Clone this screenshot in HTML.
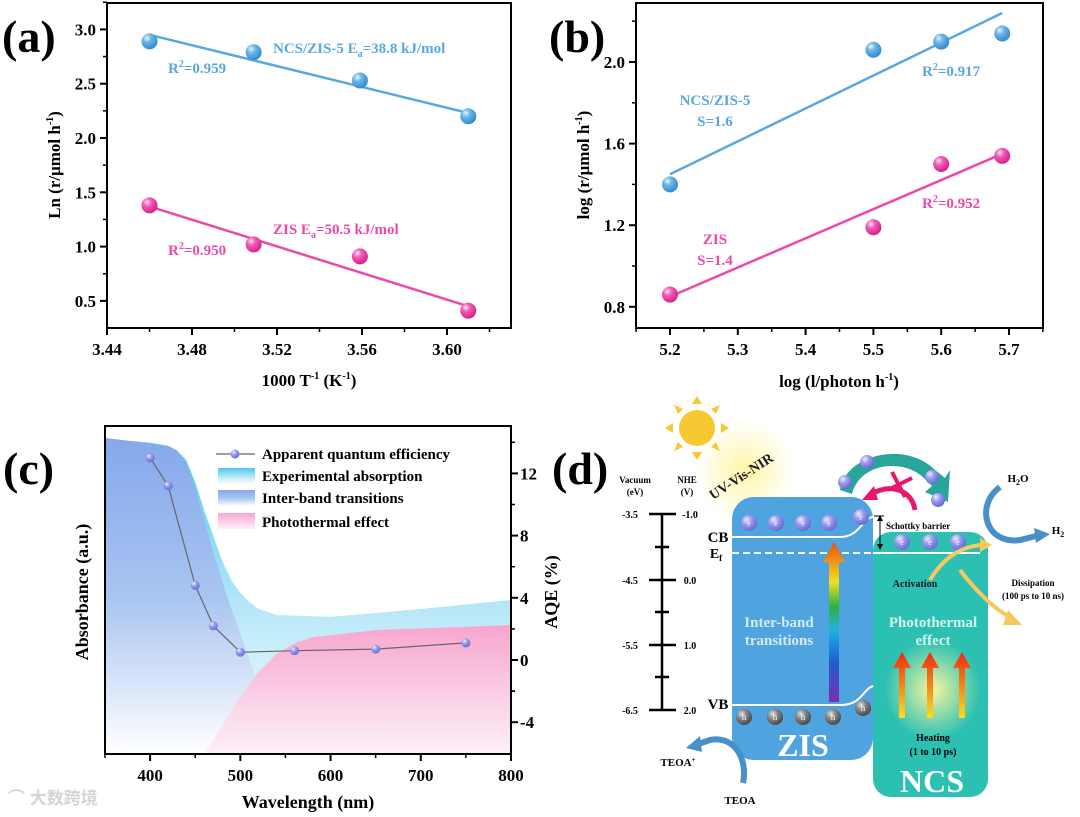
<!DOCTYPE html>
<html><head><meta charset="utf-8">
<style>
html,body{margin:0;padding:0;background:#fff;}
svg{display:block;font-family:"Liberation Serif","Noto Serif CJK SC",serif;font-weight:bold;}
</style></head>
<body>
<svg id="fig" width="1080" height="817" viewBox="0 0 1080 817" xmlns="http://www.w3.org/2000/svg">
<defs>
  <radialGradient id="gBlue" cx="0.35" cy="0.3" r="0.75"><stop offset="0" stop-color="#e8f4ff"/><stop offset="0.35" stop-color="#6cb6ea"/><stop offset="1" stop-color="#2f86c8"/></radialGradient>
  <radialGradient id="gPink" cx="0.35" cy="0.3" r="0.75"><stop offset="0" stop-color="#ffe6f4"/><stop offset="0.35" stop-color="#f25cb4"/><stop offset="1" stop-color="#d41d8a"/></radialGradient>
  <radialGradient id="gPurp" cx="0.35" cy="0.3" r="0.75"><stop offset="0" stop-color="#f0f0ff"/><stop offset="0.4" stop-color="#9a9cf0"/><stop offset="1" stop-color="#6466d0"/></radialGradient>
  <radialGradient id="gGray" cx="0.35" cy="0.3" r="0.75"><stop offset="0" stop-color="#ddd"/><stop offset="0.4" stop-color="#888"/><stop offset="1" stop-color="#444"/></radialGradient>
  <linearGradient id="gCyan" x1="0" y1="0" x2="0" y2="1"><stop offset="0" stop-color="#4cc8f0"/><stop offset="0.55" stop-color="#b8e8f8"/><stop offset="1" stop-color="#ffffff"/></linearGradient>
  <linearGradient id="gInter" x1="0" y1="0" x2="0" y2="1"><stop offset="0" stop-color="#86a8ec"/><stop offset="0.5" stop-color="#a8c4f0"/><stop offset="1" stop-color="#ffffff"/></linearGradient>
  <linearGradient id="gPinkA" x1="0" y1="0" x2="0" y2="1"><stop offset="0" stop-color="#f7a6cf"/><stop offset="1" stop-color="#fdf0f7"/></linearGradient>
  <linearGradient id="gRain" x1="0" y1="1" x2="0" y2="0"><stop offset="0" stop-color="#7a2fb0"/><stop offset="0.25" stop-color="#1e5fd0"/><stop offset="0.45" stop-color="#20b0e0"/><stop offset="0.6" stop-color="#30b040"/><stop offset="0.75" stop-color="#f0e020"/><stop offset="1" stop-color="#f04a10"/></linearGradient>
  <linearGradient id="gHeat" x1="0" y1="1" x2="0" y2="0"><stop offset="0" stop-color="#f8e020"/><stop offset="1" stop-color="#f02a10"/></linearGradient>
  <radialGradient id="gGlow" cx="0.5" cy="0.5" r="0.5"><stop offset="0" stop-color="#f6f6a0"/><stop offset="1" stop-color="#f6f6a0" stop-opacity="0"/></radialGradient>
  <radialGradient id="gSun" cx="0.5" cy="0.5" r="0.5"><stop offset="0" stop-color="#fff59a" stop-opacity="0.9"/><stop offset="1" stop-color="#fff59a" stop-opacity="0"/></radialGradient>
</defs>
<g id="pa"></g>
<g id="pb"></g>
<g id="pc"></g>

<text x="2" y="52" font-size="46">(a)</text>
<text x="549" y="52" font-size="46">(b)</text>
<text x="3" y="484" font-size="46">(c)</text>
<text x="552" y="484" font-size="46">(d)</text>

<g id="pd">
  <circle cx="745" cy="470" r="50" fill="url(#gSun)"/>
  <g fill="#f8c832">
    <circle cx="697" cy="428" r="18"/>
    <polygon points="697,396 692,404 702,404"/><polygon points="697,460 692,452 702,452"/>
    <polygon points="665,428 673,423 673,433"/><polygon points="729,428 721,423 721,433"/>
    <polygon points="674,405 678,414 683,409"/><polygon points="720,451 716,442 711,447"/>
    <polygon points="720,405 711,409 716,414"/><polygon points="674,451 683,447 678,442"/>
  </g>
  <text x="0" y="0" font-size="14" fill="#1a1a1a" transform="translate(713,500) rotate(-33)">UV-Vis-NIR</text>
  <text x="635" y="483" font-size="9" text-anchor="middle">Vacuum</text>
  <text x="635" y="495" font-size="9" text-anchor="middle">(eV)</text>
  <text x="687" y="483" font-size="9" text-anchor="middle">NHE</text>
  <text x="687" y="495" font-size="9" text-anchor="middle">(V)</text>
  <g stroke="#000" stroke-width="2.5">
    <line x1="662" y1="514" x2="662" y2="711"/>
    <line x1="649" y1="514" x2="676" y2="514"/><line x1="649" y1="580" x2="676" y2="580"/>
    <line x1="649" y1="645" x2="676" y2="645"/><line x1="649" y1="710" x2="676" y2="710"/>
    <line x1="655" y1="547" x2="669" y2="547"/><line x1="655" y1="612" x2="669" y2="612"/><line x1="655" y1="677" x2="669" y2="677"/>
  </g>
  <g font-size="10">
    <text x="630" y="518" text-anchor="middle">-3.5</text><text x="630" y="584" text-anchor="middle">-4.5</text>
    <text x="630" y="649" text-anchor="middle">-5.5</text><text x="630" y="714" text-anchor="middle">-6.5</text>
    <text x="690" y="518" text-anchor="middle">-1.0</text><text x="690" y="584" text-anchor="middle">0.0</text>
    <text x="690" y="649" text-anchor="middle">1.0</text><text x="690" y="714" text-anchor="middle">2.0</text>
  </g>
  <rect x="732" y="497" width="141" height="263" rx="22" fill="#4fa3de"/>
  <rect x="873" y="532" width="115" height="265" rx="18" fill="#2cc0b2"/>
  <ellipse cx="933" cy="690" rx="48" ry="50" fill="url(#gGlow)"/>
  <path d="M732,537 L840,537 C860,537 862,518 873,517" fill="none" stroke="#fff" stroke-width="2"/>
  <line x1="732" y1="553" x2="873" y2="553" stroke="#fff" stroke-width="2" stroke-dasharray="7,4"/>
  <line x1="873" y1="553" x2="980" y2="553" stroke="#fff" stroke-width="2"/>
  <path d="M732,705 L840,705 C862,705 862,690 873,686" fill="none" stroke="#fff" stroke-width="2"/>
  <text x="718" y="542" font-size="15" text-anchor="middle">CB</text>
  <text x="716" y="558" font-size="14" text-anchor="middle">E<tspan font-size="9" dy="3">f</tspan></text>
  <text x="718" y="709" font-size="15" text-anchor="middle">VB</text>
  <g font-size="8" fill="#fff" text-anchor="middle" font-weight="normal">
    <circle cx="749" cy="523" r="8" fill="url(#gPurp)"/><circle cx="776" cy="523" r="8" fill="url(#gPurp)"/>
    <circle cx="803" cy="523" r="8" fill="url(#gPurp)"/><circle cx="829" cy="523" r="8" fill="url(#gPurp)"/>
    <circle cx="861" cy="517" r="8" fill="url(#gPurp)"/>
    <circle cx="902" cy="542" r="8" fill="url(#gPurp)"/><circle cx="930" cy="542" r="8" fill="url(#gPurp)"/><circle cx="958" cy="542" r="8" fill="url(#gPurp)"/>
    <text x="749" y="526">e</text><text x="776" y="526">e</text><text x="803" y="526">e</text><text x="829" y="526">e</text><text x="861" y="520">e</text>
    <text x="902" y="545">e</text><text x="930" y="545">e</text><text x="958" y="545">e</text>
  </g>
  <g font-size="9" fill="#fff" text-anchor="middle" font-weight="normal">
    <circle cx="744" cy="717" r="8" fill="url(#gGray)"/><circle cx="775" cy="717" r="8" fill="url(#gGray)"/>
    <circle cx="803" cy="717" r="8" fill="url(#gGray)"/><circle cx="833" cy="717" r="8" fill="url(#gGray)"/>
    <circle cx="863" cy="708" r="8" fill="url(#gGray)"/>
    <text x="744" y="720">h</text><text x="775" y="720">h</text><text x="803" y="720">h</text><text x="833" y="720">h</text><text x="863" y="711">h</text>
  </g>
  <polygon points="829,702 829,562 823,562 834,542 845,562 839,562 839,702" fill="url(#gRain)"/>
  <text x="779" y="627" font-size="15" fill="#d6ecfa" text-anchor="middle">Inter-band</text>
  <text x="779" y="645" font-size="15" fill="#d6ecfa" text-anchor="middle">transitions</text>
  <text x="803" y="756" font-size="32" fill="#fff" text-anchor="middle">ZIS</text>
  <text x="933" y="627" font-size="15" fill="#d6f8ee" text-anchor="middle">Photothermal</text>
  <text x="933" y="645" font-size="15" fill="#d6f8ee" text-anchor="middle">effect</text>
  <text x="915" y="587" font-size="10" fill="#1a1a1a" text-anchor="middle">Activation</text>
  <g fill="url(#gHeat)">
    <polygon points="899,718 899,668 893,668 902,652 911,668 905,668 905,718"/>
    <polygon points="927,718 927,668 921,668 930,652 939,668 933,668 933,718"/>
    <polygon points="959,718 959,668 953,668 962,652 971,668 965,668 965,718"/>
  </g>
  <text x="933" y="741" font-size="10" text-anchor="middle">Heating</text>
  <text x="933" y="755" font-size="10" text-anchor="middle">(1 to 10 ps)</text>
  <text x="932" y="792" font-size="32" fill="#fff" text-anchor="middle">NCS</text>
  <line x1="874" y1="516" x2="884" y2="516" stroke="#000" stroke-width="1"/>
  <line x1="880" y1="518" x2="880" y2="547" stroke="#000" stroke-width="1"/>
  <polygon points="877,521 880,515 883,521" fill="#000"/><polygon points="877,544 880,550 883,544" fill="#000"/>
  <text x="886" y="529" font-size="9">Schottky barrier</text>
  <path d="M840,490 C845,455 905,440 935,470 L945,478 L950,470 L948,502 L925,492 L932,486 L925,479 C905,458 860,462 852,494 Z" fill="#2aa59a"/>
  <g>
    <circle cx="845" cy="482" r="7" fill="url(#gPurp)"/><circle cx="867" cy="462" r="7" fill="url(#gPurp)"/>
    <circle cx="932" cy="477" r="7" fill="url(#gPurp)"/><circle cx="938" cy="500" r="7" fill="url(#gPurp)"/>
  </g>
  <path d="M915,510 C912,490 890,482 870,495" fill="none" stroke="#e8176c" stroke-width="5"/>
  <polygon points="862,500 874,486 878,500" fill="#e8176c"/>
  <line x1="892" y1="472" x2="905" y2="497" stroke="#e8176c" stroke-width="4"/>
  <line x1="888" y1="490" x2="912" y2="478" stroke="#e8176c" stroke-width="4"/>
  <text x="1018" y="482" font-size="11" text-anchor="middle">H<tspan font-size="8" dy="3">2</tspan><tspan dy="-3">O</tspan></text>
  <path d="M1000,487 C975,505 985,545 1020,540 L1036,536" fill="none" stroke="#4a90c8" stroke-width="6"/>
  <polygon points="1034,528 1050,534 1036,543" fill="#4a90c8"/>
  <text x="1058" y="534" font-size="11" text-anchor="middle">H<tspan font-size="8" dy="3">2</tspan></text>
  <path d="M930,580 C945,555 965,545 985,545 M960,570 C975,590 995,610 1012,618" fill="none" stroke="#f5c860" stroke-width="4"/>
  <polygon points="980,538 992,545 980,552" fill="#f5c860"/><polygon points="1008,610 1022,625 1003,625" fill="#f5c860"/>
  <text x="1033" y="586" font-size="9" text-anchor="middle">Dissipation</text>
  <text x="1033" y="599" font-size="9" text-anchor="middle">(100 ps to 10 ns)</text>
  <path d="M743,783 C748,760 735,735 710,740 L698,744" fill="none" stroke="#4a90c8" stroke-width="6"/>
  <polygon points="700,736 686,748 702,752" fill="#4a90c8"/>
  <text x="678" y="766" font-size="11" text-anchor="middle">TEOA<tspan font-size="7" dy="-4">+</tspan></text>
  <text x="740" y="804" font-size="11" text-anchor="middle">TEOA</text>
</g>
<text x="8" y="804" font-size="17" fill="#d4d4d4" font-family="'Liberation Sans','Noto Sans CJK SC',sans-serif">⌒ 大数跨境</text>

<script>
// ---------- Panel A data ----------
const aX = [3.46, 3.509, 3.559, 3.61];
const aBlue = [2.89, 2.79, 2.53, 2.20];
const aPink = [1.38, 1.02, 0.91, 0.41];
const aBlueFit = [2.95, 2.23];
const aPinkFit = [1.37, 0.45];
const aXTicks = ["3.44","3.48","3.52","3.56","3.60"];
const aYTicks = ["0.5","1.0","1.5","2.0","2.5","3.0"];
// ---------- Panel B data ----------
const bX = [5.2, 5.5, 5.6, 5.69];
const bBlue = [1.40, 2.06, 2.10, 2.14];
const bPink = [0.86, 1.19, 1.50, 1.54];
const bBlueFit = [1.45, 2.24];
const bPinkFit = [0.85, 1.55];
const bXTicks = ["5.2","5.3","5.4","5.5","5.6","5.7"];
const bYTicks = ["0.8","1.2","1.6","2.0"];
// ---------- Panel C data ----------
const cAqeX = [400, 420, 450, 470, 500, 560, 650, 750];
const cAqe = [13.0, 11.2, 4.8, 2.2, 0.5, 0.6, 0.7, 1.1];
const cExpX = [350, 360, 380, 400, 420, 430, 440, 450, 460, 470, 480, 490, 500, 510, 520, 540, 600, 700, 800];
const cExp = [1.0, 0.995, 0.99, 0.985, 0.975, 0.96, 0.93, 0.86, 0.77, 0.69, 0.61, 0.55, 0.51, 0.48, 0.46, 0.44, 0.434, 0.459, 0.487];
const cInterX = [350, 380, 420, 430, 440, 450, 460, 470, 485, 500, 515, 530, 545, 560];
const cInter = [1.0, 0.99, 0.975, 0.96, 0.92, 0.84, 0.74, 0.64, 0.5, 0.38, 0.26, 0.16, 0.07, 0.0];
const cPhotoX = [460, 480, 500, 520, 540, 560, 580, 650, 800];
const cPhoto = [0.0, 0.09, 0.18, 0.26, 0.316, 0.35, 0.37, 0.392, 0.408];
const cXTicks = ["400","500","600","700","800"];
const cYTicks = ["-4","0","4","8","12"];

const NS = "http://www.w3.org/2000/svg";
function mk(parent, tag, attrs, text) {
  const e = document.createElementNS(NS, tag);
  for (const k in attrs) e.setAttribute(k, attrs[k]);
  if (text !== undefined) e.textContent = text;
  parent.appendChild(e);
  return e;
}
// parts: [text, dy, fontSize]
function rich(parent, attrs, parts) {
  const t = mk(parent, 'text', attrs);
  parts.forEach(p => {
    const s = mk(t, 'tspan', {}, p[0]);
    if (p[1]) s.setAttribute('dy', p[1]);
    if (p[2]) s.setAttribute('font-size', p[2]);
  });
  return t;
}
const BLUE = "#58a8e0", PINK = "#ee48a8";

// ===== Panel A =====
(function(){
  const g = document.getElementById('pa');
  const xa = v => 107 + (v - 3.44) * 2125;
  const ya = v => 29.4 + (3 - v) * 108.6;
  const f = mk(g,'rect',{x:107,y:3,width:404,height:325,fill:'none',stroke:'#000','stroke-width':2});
  
  
  aXTicks.forEach(t => {
    const v = parseFloat(t);
    mk(g,'line',{x1:xa(v),x2:xa(v),y1:328,y2:335,stroke:'#000','stroke-width':2});
    const l = mk(g,'text',{x:xa(v),y:355,'font-size':17,'text-anchor':'middle'},t);
    
    
    mk(g,'line',{x1:xa(v+0.02),x2:xa(v+0.02),y1:328,y2:332,stroke:'#000','stroke-width':1.5});
  });
  aYTicks.forEach(t => {
    const v = parseFloat(t);
    mk(g,'line',{x1:100,x2:107,y1:ya(v),y2:ya(v),stroke:'#000','stroke-width':2});
    mk(g,'line',{x1:103,x2:107,y1:ya(v+0.25),y2:ya(v+0.25),stroke:'#000','stroke-width':1.5});
    const l = mk(g,'text',{x:96,y:ya(v)+6,'font-size':17,'text-anchor':'end'},t);
    
    
  });
  const xt = rich(g,{x:309,y:386,'font-size':17,'text-anchor':'middle'},
    [['1000 T'],['-1',-7,10],[' (K',7],['-1',-7,10],[')',7]]);
  
  
  const yt = rich(g,{x:0,y:0,'font-size':17,'text-anchor':'middle',transform:'translate(60,165) rotate(-90)'},
    [['Ln (r/μmol h'],['-1',-7,10],[')',7]]);
  
  
  const lb = mk(g,'line',{x1:xa(aX[0]),y1:ya(aBlueFit[0]),x2:xa(aX[3]),y2:ya(aBlueFit[1]),stroke:BLUE,'stroke-width':2.5});
  
  
  const lp = mk(g,'line',{x1:xa(aX[0]),y1:ya(aPinkFit[0]),x2:xa(aX[3]),y2:ya(aPinkFit[1]),stroke:PINK,'stroke-width':2.5});
  
  
  aX.forEach((x,i) => {
    const c1 = mk(g,'circle',{cx:xa(x),cy:ya(aBlue[i]),r:8,fill:'url(#gBlue)'});
    
    
    const c2 = mk(g,'circle',{cx:xa(x),cy:ya(aPink[i]),r:8,fill:'url(#gPink)'});
    
    
  });
  const t1 = rich(g,{x:273,y:53,'font-size':15,fill:BLUE},[['NCS/ZIS-5 E'],['a',4,10],['=38.8 kJ/mol',-4]]);
  
  
  const t2 = rich(g,{x:168,y:73,'font-size':15,fill:BLUE},[['R'],['2',-6,10],['=0.959',6]]);
  
  
  const t3 = rich(g,{x:273,y:234,'font-size':15,fill:PINK},[['ZIS E'],['a',4,10],['=50.5 kJ/mol',-4]]);
  
  
  const t4 = rich(g,{x:168,y:255,'font-size':15,fill:PINK},[['R'],['2',-6,10],['=0.950',6]]);
  
  
})();

// ===== Panel B =====
(function(){
  const g = document.getElementById('pb');
  const xb = v => 670 + (v - 5.2) * 678;
  const yb = v => 62 + (2 - v) * 204;
  const f = mk(g,'rect',{x:636,y:3,width:407,height:325,fill:'none',stroke:'#000','stroke-width':2});
  
  
  bXTicks.forEach(t => {
    const v = parseFloat(t);
    mk(g,'line',{x1:xb(v),x2:xb(v),y1:328,y2:335,stroke:'#000','stroke-width':2});
    mk(g,'line',{x1:xb(v+0.05),x2:xb(v+0.05),y1:328,y2:332,stroke:'#000','stroke-width':1.5});
    const l = mk(g,'text',{x:xb(v),y:355,'font-size':17,'text-anchor':'middle'},t);
    
    
  });
  mk(g,'line',{x1:xb(5.15),x2:xb(5.15),y1:328,y2:332,stroke:'#000','stroke-width':1.5});
  bYTicks.forEach(t => {
    const v = parseFloat(t);
    mk(g,'line',{x1:629,x2:636,y1:yb(v),y2:yb(v),stroke:'#000','stroke-width':2});
    mk(g,'line',{x1:632,x2:636,y1:yb(v+0.2),y2:yb(v+0.2),stroke:'#000','stroke-width':1.5});
    const l = mk(g,'text',{x:625,y:yb(v)+6,'font-size':17,'text-anchor':'end'},t);
    
    
  });
  const xt = rich(g,{x:839,y:387,'font-size':17,'text-anchor':'middle'},[['log (l/photon h'],['-1',-7,10],[')',7]]);
  
  
  const yt = rich(g,{x:0,y:0,'font-size':17,'text-anchor':'middle',transform:'translate(589,165) rotate(-90)'},[['log (r/μmol h'],['-1',-7,10],[')',7]]);
  
  
  const lb = mk(g,'line',{x1:xb(bX[0]),y1:yb(bBlueFit[0]),x2:xb(bX[3]),y2:yb(bBlueFit[1]),stroke:BLUE,'stroke-width':2.5});
  
  
  const lp = mk(g,'line',{x1:xb(bX[0]),y1:yb(bPinkFit[0]),x2:xb(bX[3]),y2:yb(bPinkFit[1]),stroke:PINK,'stroke-width':2.5});
  
  
  bX.forEach((x,i) => {
    const c1 = mk(g,'circle',{cx:xb(x),cy:yb(bBlue[i]),r:8,fill:'url(#gBlue)'});
    
    
    const c2 = mk(g,'circle',{cx:xb(x),cy:yb(bPink[i]),r:8,fill:'url(#gPink)'});
    
    
  });
  const tx = [[715,105,'NCS/ZIS-5',BLUE,'label-ncs-zis-b'],[715,126,'S=1.6',BLUE,'slope-ncs-zis'],[715,244,'ZIS',PINK,'label-zis-b'],[715,265,'S=1.4',PINK,'slope-zis']];
  tx.forEach(a => {
    const t = mk(g,'text',{x:a[0],y:a[1],'font-size':15,fill:a[3],'text-anchor':'middle'},a[2]);
    
    
  });
  const r1 = rich(g,{x:922,y:76,'font-size':15,fill:BLUE},[['R'],['2',-6,10],['=0.917',6]]);
  
  
  const r2 = rich(g,{x:922,y:208,'font-size':15,fill:PINK},[['R'],['2',-6,10],['=0.952',6]]);
  
  
})();

// ===== Panel C =====
(function(){
  const g = document.getElementById('pc');
  const xc = v => 105 + (v - 350) * 0.9022;
  const yq = v => 660 - v * 15.55;
  const yA = a => 754 - a * 316;
  function area(xs, ys, fill, name) {
    let d = 'M' + xc(xs[0]) + ',754';
    xs.forEach((x,i) => { d += ' L' + xc(x) + ',' + yA(ys[i]); });
    d += ' L' + xc(xs[xs.length-1]) + ',754 Z';
    const p = mk(g,'path',{d:d,fill:fill});
    
    
  }
  area(cExpX, cExp, 'url(#gCyan)', 'experimental-absorption-area');
  area(cInterX, cInter, 'url(#gInter)', 'interband-transitions-area');
  area(cPhotoX, cPhoto, 'url(#gPinkA)', 'photothermal-effect-area');
  const f = mk(g,'rect',{x:105,y:426,width:406,height:328,fill:'none',stroke:'#000','stroke-width':2});
  
  
  cXTicks.forEach(t => {
    const v = parseFloat(t);
    mk(g,'line',{x1:xc(v),x2:xc(v),y1:754,y2:761,stroke:'#000','stroke-width':2});
    mk(g,'line',{x1:xc(v-50),x2:xc(v-50),y1:754,y2:758,stroke:'#000','stroke-width':1.5});
    const l = mk(g,'text',{x:xc(v),y:781,'font-size':17,'text-anchor':'middle'},t);
    
    
  });
  cYTicks.forEach(t => {
    const v = parseFloat(t);
    mk(g,'line',{x1:511,x2:518,y1:yq(v),y2:yq(v),stroke:'#000','stroke-width':2});
    mk(g,'line',{x1:511,x2:515,y1:yq(v+2),y2:yq(v+2),stroke:'#000','stroke-width':1.5});
    const l = mk(g,'text',{x:520,y:yq(v)+6,'font-size':17},t);
    
    
  });
  mk(g,'line',{x1:511,x2:515,y1:yq(-2),y2:yq(-2),stroke:'#000','stroke-width':1.5});
  const xt = mk(g,'text',{x:308,y:808,'font-size':18,'text-anchor':'middle'},'Wavelength (nm)');
  
  
  const yt = mk(g,'text',{x:0,y:0,'font-size':18,'text-anchor':'middle',transform:'translate(88,592) rotate(-90)'},'Absorbance (a.u.)');
  
  
  const yt2 = mk(g,'text',{x:0,y:0,'font-size':18,'text-anchor':'middle',transform:'translate(557,592) rotate(-90)'},'AQE (%)');
  
  
  let d = '';
  cAqeX.forEach((x,i) => { d += (i ? ' L' : 'M') + xc(x) + ',' + yq(cAqe[i]); });
  const ln = mk(g,'path',{d:d,fill:'none',stroke:'#666','stroke-width':1.2});
  
  
  cAqeX.forEach((x,i) => {
    const c = mk(g,'circle',{cx:xc(x),cy:yq(cAqe[i]),r:4.5,fill:'url(#gPurp)'});
    
    
  });
  const lg = mk(g,'g',{});
  
  
  mk(lg,'line',{x1:216,x2:255,y1:454,y2:454,stroke:'#666','stroke-width':1.2});
  mk(lg,'circle',{cx:235,cy:454,r:4.5,fill:'url(#gPurp)'});
  mk(lg,'rect',{x:218,y:468,width:37,height:16,fill:'url(#gCyan)'});
  mk(lg,'rect',{x:218,y:490,width:37,height:16,fill:'url(#gInter)'});
  mk(lg,'rect',{x:218,y:513,width:37,height:16,fill:'url(#gPinkA)'});
  const names = ['Apparent quantum efficiency','Experimental absorption','Inter-band transitions','Photothermal effect'];
  const ys = [459,481,503,527];
  names.forEach((n,i) => {
    const t = mk(lg,'text',{x:262,y:ys[i],'font-size':15},n);
    
    
  });
})();
</script>
</svg>
</body></html>
